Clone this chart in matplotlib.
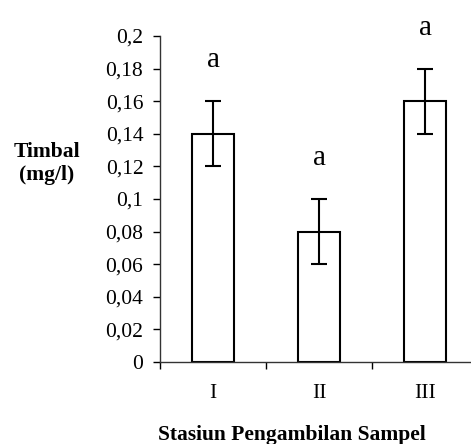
#!/usr/bin/env python3
"""Lead (Timbal) concentration per sampling station, bar chart with error bars."""

import matplotlib
matplotlib.use("Agg")
import matplotlib.pyplot as plt
from matplotlib.ticker import FuncFormatter

# Data
stations = ["I", "II", "III"]
timbal = [0.14, 0.08, 0.16]
errors = [0.02, 0.02, 0.02]
letters = ["a", "a", "a"]
letter_offset = 0.025
y_ticks = [0, 0.02, 0.04, 0.06, 0.08, 0.1, 0.12, 0.14, 0.16, 0.18, 0.2]

plt.rcParams["font.family"] = ["Liberation Serif", "DejaVu Serif"]

W, H = 471, 444
fig = plt.figure(figsize=(W / 100, H / 100), dpi=100)
# axes placed in pixels: left spine x=160, zero at y=362, 0.2 at y=36, xlim right edge off-canvas
ax = fig.add_axes([160 / W, (H - 362) / H, 318 / W, 326 / H])

x = list(range(len(stations)))
ax.bar(x, timbal, width=0.4, facecolor="white", edgecolor="black", linewidth=1.5,
       yerr=errors, capsize=6, error_kw=dict(elinewidth=1.5, capthick=1.5, ecolor="black"),
       zorder=2)

for xi, v, e, lab in zip(x, timbal, errors, letters):
    ax.text(xi, v + e + letter_offset, lab, ha="center", va="center", fontsize=21)

ax.set_xlim(-0.5, 2.5)
ax.set_ylim(0, 0.2)
ax.set_yticks(y_ticks)
ax.yaxis.set_major_formatter(FuncFormatter(lambda v, pos: f"{v:g}".replace(".", ",")))

# category labels centred, tick marks at boundaries
ax.set_xticks(x)
ax.set_xticklabels(stations, fontsize=15.5)
ax.set_xticks([-0.5, 0.5, 1.5, 2.5], minor=True)
ax.tick_params(axis="x", which="major", length=0, pad=16)
ax.tick_params(axis="x", which="minor", length=5, width=1, direction="out")
ax.tick_params(axis="y", length=5, width=1, pad=7, labelsize=15.5)

for side in ("top", "right"):
    ax.spines[side].set_visible(False)
for side in ("left", "bottom"):
    ax.spines[side].set_linewidth(1)
    ax.spines[side].set_color("#333333")

fig.text(47 / W, 1 - 163 / H, "Timbal\n(mg/l)", ha="center", va="center",
         fontsize=15.5, fontweight="bold", linespacing=1.2)
fig.text(292 / W, 1 - 435 / H, "Stasiun Pengambilan Sampel", ha="center", va="center",
         fontsize=15.5, fontweight="bold")

fig.savefig("out.png", dpi=100)
